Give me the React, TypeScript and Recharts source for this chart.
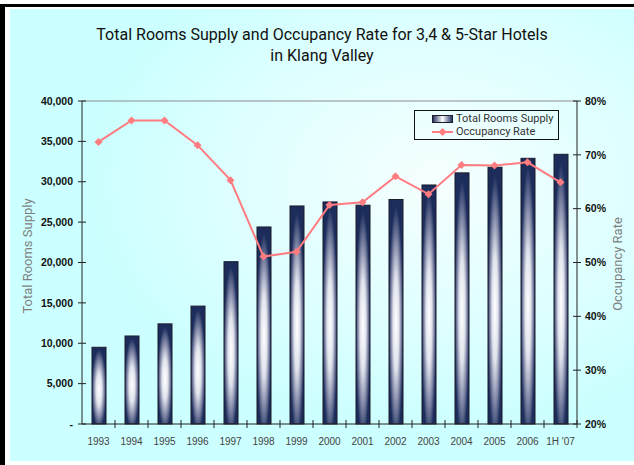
import React from "react";
import { ComposedChart, Bar, Line, XAxis, YAxis, Legend, ReferenceLine } from "recharts";

const years = ["1993", "1994", "1995", "1996", "1997", "1998", "1999", "2000", "2001", "2002", "2003", "2004", "2005", "2006", "1H '07"];
const roomsSupply = [9500, 10900, 12400, 14600, 20100, 24400, 27000, 27500, 27100, 27800, 29600, 31100, 31800, 32900, 33400];
const occupancyRate = [72.4, 76.4, 76.4, 71.8, 65.3, 51.1, 52.0, 60.7, 61.2, 66.0, 62.7, 68.1, 68.0, 68.6, 64.9];
const roomTicks = [0, 5000, 10000, 15000, 20000, 25000, 30000, 35000, 40000];
const rateTicks = [20, 30, 40, 50, 60, 70, 80];

const data = years.map((year, i) => ({ year, rooms: roomsSupply[i], rate: occupancyRate[i] }));

const TICK = 4;
const LINE_COLOR = "#ff7c80";
const numFont = "'Liberation Sans', Arial, sans-serif";

const fmtRooms = (v: number) => (v === 0 ? "-" : v.toLocaleString("en-US"));

function LeftTick(props: any) {
  const { x, y, payload } = props;
  const ax = x + TICK + 5;
  return (
    <g>
      <line x1={ax - 4} x2={ax + 4} y1={y} y2={y} stroke="#222" />
      <text x={x} y={y} dy="0.35em" textAnchor="end" fontFamily={numFont} fontWeight="bold" fontSize={10.5} fill="#111">
        {fmtRooms(payload.value)}
      </text>
    </g>
  );
}

function RightTick(props: any) {
  const { x, y, payload } = props;
  const ax = x - TICK - 4;
  return (
    <g>
      <line x1={ax - 4} x2={ax + 4} y1={y} y2={y} stroke="#222" />
      <text x={x} y={y} dy="0.35em" textAnchor="start" fontFamily={numFont} fontWeight="bold" fontSize={10.5} fill="#111">
        {payload.value}%
      </text>
    </g>
  );
}

function BottomTick(props: any) {
  const { x, y, payload, width, visibleTicksCount } = props;
  const ay = y - TICK - 10;
  const half = payload.offset || width / visibleTicksCount / 2;
  const bx = x + half;
  return (
    <g>
      <line x1={bx} x2={bx} y1={ay - 4} y2={ay + 4} stroke="#222" />
      <text x={x} y={y} dy="0.71em" textAnchor="middle" fontFamily={numFont} fontSize={10} fill="#444">
        {payload.value}
      </text>
    </g>
  );
}

function TubeBar(props: any) {
  const { x, y, width, height } = props;
  if (!height || height <= 0) return null;
  return <rect x={x} y={y} width={width} height={height} fill="url(#tube)" stroke="#1b1b2b" strokeWidth={1} />;
}

function Diamond(props: any) {
  const { cx, cy } = props;
  if (cx == null || cy == null) return null;
  const r = 4;
  return <polygon points={`${cx},${cy - r} ${cx + r},${cy} ${cx},${cy + r} ${cx - r},${cy}`} fill={LINE_COLOR} />;
}

function LegendBox() {
  const row: React.CSSProperties = { display: "flex", alignItems: "center", height: 13 };
  const txt: React.CSSProperties = { fontFamily: "Roboto, sans-serif", fontSize: 11, lineHeight: "13px", color: "#333", marginLeft: 3 };
  return (
    <div style={{ border: "1px solid #111", padding: "1px 0 1px 17px", boxSizing: "border-box", width: 145, height: 30 }}>
      <div style={row}>
        <svg width={21} height={8}>
          <rect x={0.5} y={0.5} width={20} height={7} fill="url(#tubeH)" stroke="#1b1b2b" />
        </svg>
        <span style={txt}>Total Rooms Supply</span>
      </div>
      <div style={row}>
        <svg width={21} height={8}>
          <line x1={0} x2={21} y1={4} y2={4} stroke={LINE_COLOR} strokeWidth={2} />
          <polygon points="10.5,0 14.5,4 10.5,8 6.5,4" fill={LINE_COLOR} />
        </svg>
        <span style={txt}>Occupancy Rate</span>
      </div>
    </div>
  );
}

export default function App() {
  return (
    <div style={{ position: "absolute", left: 0, top: 0, width: 634, height: 465, background: "#fff", overflow: "hidden" }}>
      <div style={{ position: "absolute", left: 0, top: 4, width: 634, height: 3, background: "#000" }} />
      <div style={{ position: "absolute", left: 0, top: 4, width: 5, height: 461, background: "#000" }} />
      <div
        style={{
          position: "absolute",
          left: 10,
          top: 9,
          width: 624,
          height: 452,
          background: "radial-gradient(ellipse 55% 55% at 68% 38%, #f6ffff 0%, #e4ffff 45%, #ccffff 100%)",
        }}
      />
      <div
        style={{
          position: "absolute",
          left: 10,
          top: 24,
          width: 624,
          textAlign: "center",
          fontFamily: "Roboto, sans-serif",
          fontSize: 16,
          lineHeight: "21px",
          color: "#111",
        }}
      >
        Total Rooms Supply and Occupancy Rate for 3,4 &amp; 5-Star Hotels
        <br />
        in Klang Valley
      </div>
      <div
        style={{
          position: "absolute",
          left: 27,
          top: 256,
          transform: "translate(-50%, -50%) rotate(-90deg)",
          whiteSpace: "nowrap",
          fontFamily: "Roboto, sans-serif",
          fontSize: 13,
          color: "#7f7f7f",
        }}
      >
        Total Rooms Supply
      </div>
      <div
        style={{
          position: "absolute",
          left: 617,
          top: 264,
          transform: "translate(-50%, -50%) rotate(-90deg)",
          whiteSpace: "nowrap",
          fontFamily: "Roboto, sans-serif",
          fontSize: 13,
          color: "#7f7f7f",
        }}
      >
        Occupancy Rate
      </div>
      <div style={{ position: "absolute", left: 0, top: 0 }}>
        <ComposedChart width={634} height={465} data={data} margin={{ top: 101, right: 0, bottom: 0, left: 0 }}>
          <defs>
            <radialGradient id="tube" cx="0.5" cy="0.55" r="0.52">
              <stop offset="0%" stopColor="#ffffff" />
              <stop offset="40%" stopColor="#e0e3ec" />
              <stop offset="72%" stopColor="#7c83a3" />
              <stop offset="100%" stopColor="#1c2d5c" />
            </radialGradient>
            <linearGradient id="tubeH" x1="0" y1="0" x2="1" y2="0">
              <stop offset="0%" stopColor="#1c2d5c" />
              <stop offset="50%" stopColor="#ffffff" />
              <stop offset="100%" stopColor="#1c2d5c" />
            </linearGradient>
          </defs>
          <XAxis
            dataKey="year"
            height={41}
            tickLine={false}
            tickSize={TICK}
            tickMargin={10}
            axisLine={{ stroke: "#222" }}
            tick={<BottomTick />}
            interval={0}
          />
          <YAxis
            yAxisId="left"
            width={82}
            domain={[0, 40000]}
            ticks={roomTicks}
            tickLine={false}
            tickSize={TICK}
            tickMargin={5}
            axisLine={{ stroke: "#222" }}
            tick={<LeftTick />}
            interval={0}
          />
          <YAxis
            yAxisId="right"
            orientation="right"
            width={57}
            domain={[20, 80]}
            ticks={rateTicks}
            tickLine={false}
            tickSize={TICK}
            tickMargin={4}
            axisLine={{ stroke: "#222" }}
            tick={<RightTick />}
            interval={0}
          />
          <ReferenceLine yAxisId="left" y={40000} stroke="#8c8c8c" />
          <Legend
            layout="horizontal"
            verticalAlign="middle"
            align="center"
            content={<LegendBox />}
            wrapperStyle={{ position: "absolute", left: 414, top: 110, width: 145, height: 30 }}
          />
          <Bar yAxisId="left" dataKey="rooms" name="Total Rooms Supply" barSize={14} shape={<TubeBar />} isAnimationActive={false} />
          <Line
            yAxisId="right"
            dataKey="rate"
            name="Occupancy Rate"
            stroke={LINE_COLOR}
            strokeWidth={2}
            dot={<Diamond />}
            activeDot={false}
            isAnimationActive={false}
          />
        </ComposedChart>
      </div>
    </div>
  );
}
